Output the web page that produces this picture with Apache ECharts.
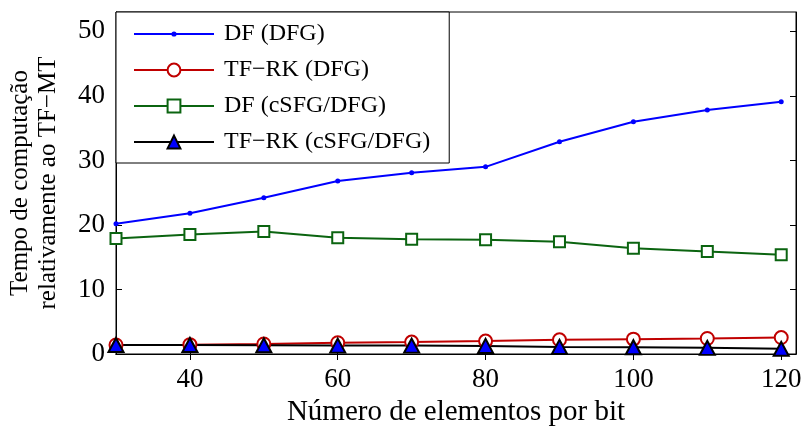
<!DOCTYPE html>
<html>
<head>
<meta charset="utf-8">
<script src="https://cdn.jsdelivr.net/npm/echarts@6/dist/echarts.min.js"></script>
<style>
  html, body { margin: 0; padding: 0; background: #fff; }
  #chart { width: 801px; height: 426px; }
</style>
</head>
<body>
<div id="chart"></div>
<script>
// Número de elementos por bit
const elementos = [30, 40, 50, 60, 70, 80, 90, 100, 110, 120];

// Tempo de computação relativamente ao TF-MT
const dfDFG      = [20.2, 21.8, 24.2, 26.8, 28.1, 29.0, 32.9, 36.0, 37.8, 39.1];
const tfrkDFG    = [1.4, 1.45, 1.55, 1.75, 1.85, 2.0, 2.2, 2.3, 2.4, 2.55];
const dfCSFG     = [17.9, 18.5, 19.0, 18.0, 17.8, 17.7, 17.4, 16.4, 15.9, 15.4];
const tfrkCSFG   = [1.4, 1.4, 1.35, 1.3, 1.3, 1.25, 1.1, 1.05, 0.95, 0.8];

const xTicks = [40, 60, 80, 100, 120];
const yTicks = [0, 10, 20, 30, 40, 50];

const seriesNames = ['DF (DFG)', 'TF\u2212RK (DFG)', 'DF (cSFG/DFG)', 'TF\u2212RK (cSFG/DFG)'];

const FONT = "'Liberation Serif', 'Times New Roman', serif";

// legend sample for the dotted blue series: a line with a small dot in the middle
const dotLineIcon = 'path://M0,0 M80,16 M0,7 L80,7 L80,9 L0,9 Z ' +
  'M37.4,8 A2.6,2.6 0 1 1 42.6,8 A2.6,2.6 0 1 1 37.4,8 Z';

function pairs(ys) {
  return elementos.map((x, i) => [x, ys[i]]);
}

const chart = echarts.init(document.getElementById('chart'), null, { renderer: 'canvas' });

const tickStyle = { show: true, inside: true, length: 6, lineStyle: { color: '#000', width: 1 } };

chart.setOption({
  animation: false,
  backgroundColor: '#fff',
  textStyle: { fontFamily: FONT, color: '#000' },
  grid: {
    left: 116, right: 5, top: 12, bottom: 72,
    outerBoundsMode: 'none',
    containLabel: false,
    show: true, borderColor: '#000', borderWidth: 1, backgroundColor: 'transparent'
  },
  legend: {
    show: true,
    orient: 'vertical',
    left: 116, top: 12,
    data: [
      { name: seriesNames[0], icon: dotLineIcon },
      seriesNames[1], seriesNames[2], seriesNames[3]
    ],
    backgroundColor: '#fff',
    borderColor: '#000',
    borderWidth: 1,
    borderRadius: 0,
    padding: [10, 19, 9, 17],
    itemWidth: 80,
    itemHeight: 16,
    itemGap: 12,
    selectedMode: false,
    textStyle: { fontFamily: FONT, fontSize: 24, color: '#000', padding: [0, 0, 0, 5] }
  },
  xAxis: [{
    type: 'value', min: 30, max: 122, position: 'bottom',
    name: 'Número de elementos por bit',
    nameLocation: 'middle', nameGap: 40,
    nameTextStyle: { fontFamily: FONT, fontSize: 29, color: '#000' },
    axisLine: { show: true, lineStyle: { color: '#000', width: 1 } },
    axisTick: Object.assign({ customValues: xTicks }, tickStyle),
    axisLabel: { customValues: xTicks, fontFamily: FONT, fontSize: 27, color: '#000', margin: 12 },
    splitLine: { show: false }
  }, {
    type: 'value', min: 30, max: 122, position: 'top',
    axisLine: { show: true, lineStyle: { color: '#000', width: 1 } },
    axisTick: Object.assign({ customValues: xTicks }, tickStyle),
    axisLabel: { show: false },
    splitLine: { show: false }
  }],
  yAxis: [{
    type: 'value', min: 0, max: 53, position: 'left',
    name: 'Tempo de computação\nrelativamente ao TF\u2212MT',
    nameLocation: 'middle', nameGap: 54, nameRotate: 90,
    nameTextStyle: { fontFamily: FONT, fontSize: 25, color: '#000', lineHeight: 28 },
    axisLine: { show: true, lineStyle: { color: '#000', width: 1 } },
    axisTick: Object.assign({ customValues: yTicks }, tickStyle),
    axisLabel: { customValues: yTicks, fontFamily: FONT, fontSize: 27, color: '#000', margin: 11 },
    splitLine: { show: false }
  }, {
    type: 'value', min: 0, max: 53, position: 'right',
    axisLine: { show: true, lineStyle: { color: '#000', width: 1 } },
    axisTick: Object.assign({ customValues: yTicks }, tickStyle),
    axisLabel: { show: false },
    splitLine: { show: false }
  }],
  series: [{
    name: seriesNames[0], type: 'line', data: pairs(dfDFG),
    symbol: 'circle', symbolSize: 5,
    lineStyle: { color: '#0000ff', width: 2 },
    itemStyle: { color: '#0000ff' },
    emphasis: { disabled: true }
  }, {
    name: seriesNames[1], type: 'line', data: pairs(tfrkDFG),
    symbol: 'circle', symbolSize: 13,
    lineStyle: { color: '#c00000', width: 2 },
    itemStyle: { color: '#fff', borderColor: '#c00000', borderWidth: 2 },
    emphasis: { disabled: true }
  }, {
    name: seriesNames[2], type: 'line', data: pairs(dfCSFG),
    symbol: 'rect', symbolSize: 11,
    lineStyle: { color: '#0b6410', width: 2 },
    itemStyle: { color: '#fff', borderColor: '#0b6410', borderWidth: 2 },
    emphasis: { disabled: true }
  }, {
    name: seriesNames[3], type: 'line', data: pairs(tfrkCSFG),
    symbol: 'triangle', symbolSize: [15, 14],
    lineStyle: { color: '#000', width: 2 },
    itemStyle: { color: '#0000ff', borderColor: '#000', borderWidth: 2 },
    emphasis: { disabled: true }
  }]
});
</script>
</body>
</html>
